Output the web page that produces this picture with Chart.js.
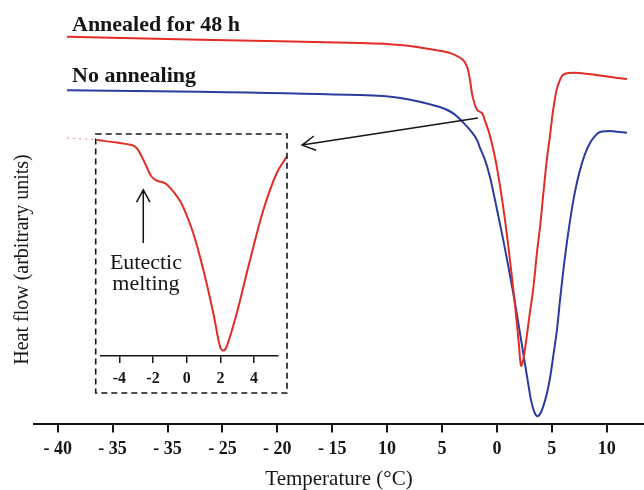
<!DOCTYPE html>
<html>
<head>
<meta charset="utf-8">
<script src="https://cdn.jsdelivr.net/npm/chart.js@4"></script>
<style>
  body { margin: 0; background: #fff; }
  #wrap { position: relative; width: 644px; height: 490px; }
  #main { position: absolute; left: 0; top: 0; }
  #inset { position: absolute; left: 60px; top: 128px; }
</style>
</head>
<body>
<div id="wrap">
  <canvas id="main" width="644" height="490"></canvas>
  <canvas id="inset" width="235" height="272"></canvas>
</div>
<script>
// temperature (°C) vs heat flow (arbitrary units)
const annealedT = [-39.15, -27.0, -12.5, -8.8, -5.2, -4.0, -3.1, -2.7, -2.45, -2.2, -1.8, -1.35, -1.1, -0.63, -0.17, 0.28, 0.74, 1.19, 1.65, 2.0, 2.2, 2.4, 2.55, 3.0, 3.3, 3.65, 3.95, 4.2, 4.55, 4.85, 5.1, 5.45, 5.75, 6.0, 6.5, 7.55, 11.85];
const annealedH = [94.3, 93.6, 92.8, 92.3, 90.9, 90.1, 88.7, 86.9, 83.8, 79.6, 76.5, 75.7, 74.0, 70.2, 64.9, 58.0, 49.6, 39.9, 28.9, 19.5, 14.1, 15.5, 17.9, 26.9, 32.6, 41.6, 48.4, 55.2, 64.3, 70.4, 76.0, 81.5, 83.8, 85.0, 85.5, 85.5, 84.0];

const plainT = [-39.15, -27.0, -12.5, -8.8, -5.2, -4.0, -3.1, -2.3, -1.8, -1.54, -1.08, -0.63, -0.17, 0.28, 0.74, 1.19, 1.65, 2.1, 2.47, 2.83, 3.11, 3.38, 3.65, 3.93, 4.2, 4.56, 4.84, 5.11, 5.47, 5.75, 6.2, 6.66, 7.11, 7.57, 8.02, 8.48, 8.93, 9.39, 10.03, 10.57, 11.85];
const plainH = [81.3, 80.9, 80.1, 79.4, 77.2, 75.7, 73.5, 71.1, 69.1, 67.2, 64.3, 60.1, 54.5, 48.7, 42.6, 36.2, 29.4, 22.1, 16.0, 10.1, 5.7, 3.0, 1.8, 2.3, 4.0, 7.4, 11.1, 16.0, 22.8, 30.1, 40.6, 49.4, 56.5, 61.8, 65.7, 68.4, 70.1, 71.1, 71.3, 71.3, 70.9];

const tickValues = [-40, -35, -30, -25, -20, -15, -10, -5, 0, 5, 10];
const tickLabels = ["- 40", "- 35", "- 35", "- 25", "- 20", "- 15", "10", "5", "0", "5", "10"];

// inset: annealed sample, enlarged
const insetT = [-5.34, -4.16, -3.27, -2.97, -2.67, -2.38, -2.08, -1.78, -1.29, -0.89, -0.5, -0.2, 0.39, 0.99, 1.58, 1.98, 2.17, 2.37, 2.97, 3.76, 4.55, 5.34, 5.94];
const insetH = [100.0, 98.8, 97.7, 96.2, 92.3, 87.6, 83.0, 81.2, 80.0, 77.0, 73.0, 68.8, 56.8, 39.8, 19.8, 4.3, 2.5, 4.3, 19.8, 44.4, 67.6, 84.6, 92.3];
const insetLeadT = [-7.1, -5.4];
const insetLeadH = [100.9, 100.2];
const insetTicks = [-4, -2, 0, 2, 4];

const serif = '"Liberation Serif", "Times New Roman", serif';
const red = "rgb(226, 44, 36)";
const blue = "rgb(42, 60, 160)";
const ink = "#161616";

function pairs(xs, ys) {
  return xs.map((x, i) => ({ x: x, y: ys[i] }));
}

function arrow(ctx, x1, y1, x2, y2, len) {
  const a = Math.atan2(y2 - y1, x2 - x1);
  ctx.beginPath();
  ctx.moveTo(x1, y1);
  ctx.lineTo(x2, y2);
  ctx.moveTo(x2 - len * Math.cos(a - 0.5), y2 - len * Math.sin(a - 0.5));
  ctx.lineTo(x2, y2);
  ctx.lineTo(x2 - len * Math.cos(a + 0.5), y2 - len * Math.sin(a + 0.5));
  ctx.stroke();
}

const mainExtras = {
  id: "mainExtras",
  afterDraw(chart) {
    const { ctx } = chart;
    const x = chart.scales.x, y = chart.scales.y;
    ctx.save();
    ctx.fillStyle = ink;
    ctx.font = "bold 22px " + serif;
    ctx.textBaseline = "alphabetic";
    ctx.fillText("Annealed for 48 h", x.getPixelForValue(-38.7), y.getPixelForValue(95.8));
    ctx.fillText("No annealing", x.getPixelForValue(-38.7), y.getPixelForValue(83.4));

    // y title
    ctx.save();
    ctx.translate(23, y.getPixelForValue(40));
    ctx.rotate(-Math.PI / 2);
    ctx.font = "20px " + serif;
    ctx.textAlign = "center";
    ctx.textBaseline = "middle";
    ctx.fillText("Heat flow (arbitrary units)", 0, 0);
    ctx.restore();

    // pointer from the shoulder to the inset
    ctx.strokeStyle = ink;
    ctx.lineWidth = 1.5;
    arrow(ctx, x.getPixelForValue(-1.72), y.getPixelForValue(74.5),
      x.getPixelForValue(-17.75), y.getPixelForValue(67.9), 15);
    ctx.restore();
  }
};

const insetExtras = {
  id: "insetExtras",
  afterDraw(chart) {
    const { ctx, chartArea } = chart;
    const x = chart.scales.x, y = chart.scales.y;
    ctx.save();
    ctx.strokeStyle = ink;
    ctx.lineWidth = 1.6;
    ctx.setLineDash([6, 4]);
    ctx.strokeRect(chartArea.left - 5.3, chartArea.top - 6, 191.3, 259);
    ctx.setLineDash([]);

    ctx.lineWidth = 1.5;
    arrow(ctx, x.getPixelForValue(-2.58), y.getPixelForValue(52.3),
      x.getPixelForValue(-2.58), y.getPixelForValue(76.9), 14);

    ctx.fillStyle = ink;
    ctx.font = "22px " + serif;
    ctx.textAlign = "center";
    ctx.fillText("Eutectic", x.getPixelForValue(-2.42), y.getPixelForValue(40.5));
    ctx.fillText("melting", x.getPixelForValue(-2.42), y.getPixelForValue(30.5));
    ctx.restore();
  }
};

const lineStyle = { borderWidth: 2, pointRadius: 0, tension: 0.35 };

window.onload = function() {
  new Chart(document.getElementById("main"), {
    type: "line",
    data: {
      datasets: [
        Object.assign({ label: "Annealed for 48 h", data: pairs(annealedT, annealedH), borderColor: red }, lineStyle),
        Object.assign({ label: "No annealing", data: pairs(plainT, plainH), borderColor: blue }, lineStyle)
      ]
    },
    options: {
      responsive: false,
      animation: false,
      devicePixelRatio: 1,
      layout: { padding: { top: 13.5, left: 34, right: 0, bottom: 0 } },
      plugins: { legend: { display: false }, tooltip: { enabled: false } },
      scales: {
        x: {
          type: "linear",
          min: -42.16,
          max: 13.4,
          afterBuildTicks: s => { s.ticks = tickValues.map(v => ({ value: v })); },
          afterFit: s => { s.height = 66.5; },
          ticks: {
            autoSkip: false,
            maxRotation: 0,
            padding: 6,
            color: ink,
            font: { family: serif, size: 18, weight: "bold" },
            callback: (v, i) => tickLabels[i]
          },
          grid: { drawOnChartArea: false, tickLength: 9, color: ink, lineWidth: 2 },
          border: { color: ink, width: 2 },
          title: {
            display: true,
            text: "Temperature (°C)",
            color: ink,
            font: { family: serif, size: 21, lineHeight: 1 },
            padding: { top: 0, bottom: 0 }
          }
        },
        y: { display: false, min: 0, max: 100 }
      }
    },
    plugins: [mainExtras]
  });

  new Chart(document.getElementById("inset"), {
    type: "line",
    data: {
      datasets: [
        Object.assign({ data: pairs(insetT, insetH), borderColor: red, clip: false }, lineStyle),
        { data: pairs(insetLeadT, insetLeadH), borderColor: "rgba(226, 44, 36, 0.5)", borderWidth: 1.2, borderDash: [2, 4], pointRadius: 0, clip: false }
      ]
    },
    options: {
      responsive: false,
      animation: false,
      devicePixelRatio: 1,
      layout: { padding: { top: 12, left: 41, right: 17, bottom: 0 } },
      plugins: { legend: { display: false }, tooltip: { enabled: false } },
      scales: {
        x: {
          type: "linear",
          min: -5.09,
          max: 5.42,
          afterBuildTicks: s => { s.ticks = insetTicks.map(v => ({ value: v })); },
          afterFit: s => { s.height = 44; },
          ticks: {
            autoSkip: false,
            maxRotation: 0,
            padding: 6,
            color: ink,
            font: { family: serif, size: 16, weight: "bold" }
          },
          grid: { drawOnChartArea: false, tickLength: 7, color: ink, lineWidth: 1.5 },
          border: { color: ink, width: 1.5 }
        },
        y: { display: false, min: 0, max: 100 }
      }
    },
    plugins: [insetExtras]
  });
};
</script>
</body>
</html>
